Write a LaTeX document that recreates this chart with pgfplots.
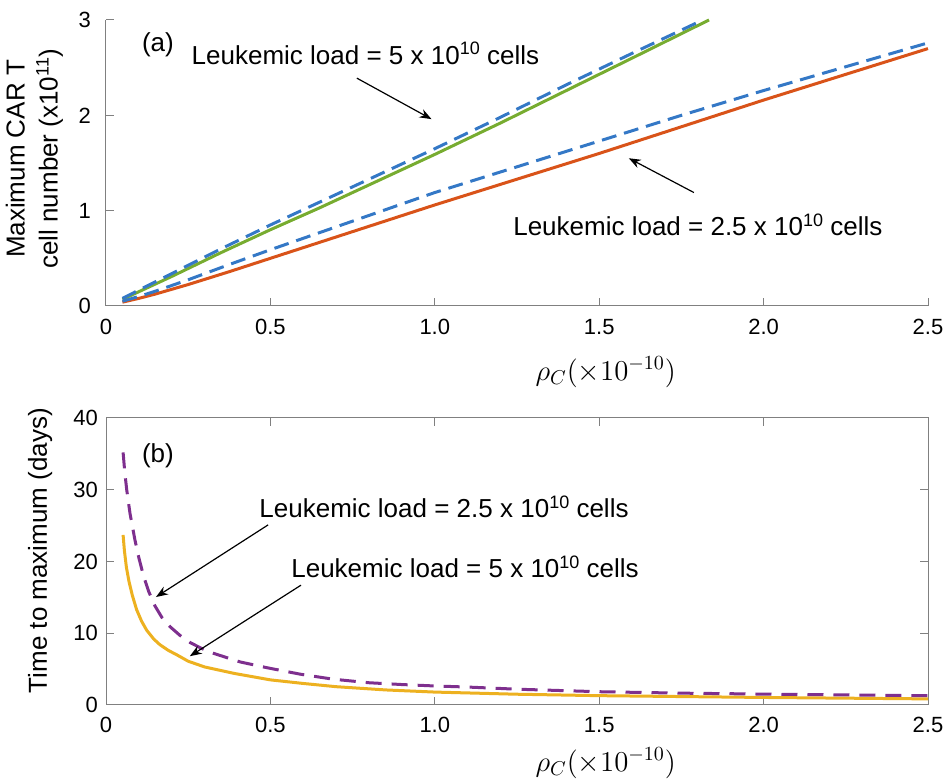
\documentclass[border=0pt]{standalone}
\usepackage[no-math]{fontspec}
\setmainfont{Liberation Sans}
\usepackage{pgfplots}
\pgfplotsset{compat=1.18}
\usetikzlibrary{arrows.meta}
\definecolor{mgreen}{HTML}{77AC30}
\definecolor{mred}{HTML}{D95319}
\definecolor{myellow}{HTML}{EDB120}
\definecolor{mpurple}{HTML}{7E2F8E}
\definecolor{mblue}{RGB}{52,120,198}
\newcommand{\af}{\fontsize{13}{15.6}\selectfont}
\newcommand{\sups}[1]{\raisebox{4.6pt}{\fontsize{9}{9}\selectfont #1}}
\pgfplotsset{
  myaxis/.style={
    scale only axis, width=411pt, height=143pt,
    xmin=0, xmax=2.5,
    tick align=inside,
    axis line style={black!50, line width=0.5pt},
    major tick style={black!50, line width=0.5pt},
    major tick length=4pt,
    xtick={0,0.5,1,1.5,2,2.5},
    xticklabels={0,0.5,1.0,1.5,2.0,2.5},
    ticklabel style={font=\fontsize{11}{13}\selectfont},
    /pgf/number format/assume math mode=true,
    clip=false,
    label style={font=\fontsize{13}{16.5}\selectfont},
  }
}
\begin{document}
\begin{tikzpicture}[x=1pt,y=1pt]
\useasboundingbox (0,0) rectangle (474,390);
% ---------------- (a) ----------------
\begin{axis}[myaxis,
  at={(53pt,237pt)}, anchor=origin,
  ymin=0, ymax=3, ytick={0,1,2,3},
  axis x line*=bottom, axis y line*=left,
  xticklabel style={yshift=-3pt},
  yticklabel style={xshift=-4pt},
  xlabel={\fontsize{14.5}{16}\selectfont$\rho_C(\times10^{-10})$},
  xlabel style={at={(axis description cs:0.608,0)}, anchor=center, yshift=-33pt},
  ylabel={Maximum CAR T\\cell number (x10\sups{11})},
  ylabel style={at={(axis description cs:-0.087,0.514)}, anchor=center, align=center},
]
\addplot[mgreen, line width=1.5pt] coordinates {
(0.05,0.07)(0.2,0.31)(0.35,0.56)(0.5,0.80)(0.65,1.03)(0.8,1.27)(1.0,1.59)(1.2,1.92)(1.4,2.26)(1.6,2.60)(1.834,3.0)};
\addplot[mblue, line width=1.5pt, dash pattern=on 7.5pt off 4pt] coordinates {
(0.05,0.08)(0.2,0.34)(0.35,0.60)(0.5,0.85)(0.65,1.09)(0.8,1.33)(1.0,1.65)(1.2,1.98)(1.4,2.32)(1.6,2.65)(1.815,3.0)};
\addplot[mred, line width=1.5pt] coordinates {
(0.05,0.04)(0.1,0.08)(0.15,0.125)(0.25,0.225)(0.375,0.36)(0.5,0.50)(0.75,0.78)(1.0,1.06)(1.25,1.33)(1.5,1.60)(1.75,1.88)(2.0,2.16)(2.25,2.43)(2.5,2.70)};
\addplot[mblue, line width=1.5pt, dash pattern=on 7.5pt off 4pt] coordinates {
(0.05,0.05)(0.1,0.10)(0.15,0.155)(0.25,0.275)(0.375,0.435)(0.5,0.59)(0.75,0.89)(1.0,1.19)(1.25,1.46)(1.5,1.73)(1.75,2.00)(2.0,2.26)(2.25,2.51)(2.5,2.76)};
\node[font=\af] at (axis cs:0.158,2.74) {(a)};
\node[font=\af] at (axis cs:0.789,2.65) {Leukemic load = 5 x 10\sups{10} cells};
\draw[line width=0.6pt, -{Stealth[length=6pt,width=4.5pt]}] (axis cs:0.763,2.39) -- (axis cs:0.99,1.96);
\node[font=\af] at (axis cs:1.80,0.85) {Leukemic load = 2.5 x 10\sups{10} cells};
\draw[line width=0.6pt, -{Stealth[length=6pt,width=4.5pt]}] (axis cs:1.788,1.19) -- (axis cs:1.59,1.55);
\end{axis}
% ---------------- (b) ----------------
\begin{axis}[myaxis,
  at={(53pt,37.5pt)}, anchor=origin,
  height=143.5pt,
  ymin=0, ymax=40, ytick={0,10,20,30,40},
  xticklabel style={yshift=-2.5pt},
  yticklabel style={xshift=-0.5pt},
  xlabel={\fontsize{14.5}{16}\selectfont$\rho_C(\times10^{-10})$},
  xlabel style={at={(axis description cs:0.608,0)}, anchor=center, yshift=-29pt},
  ylabel={Time to maximum (days)},
  ylabel style={at={(axis description cs:-0.080,0.538)}, anchor=center},
]
\addplot[myellow, line width=1.5pt] coordinates {
(0.052,23.7)(0.056,21.5)(0.062,19.2)(0.07,17.2)(0.08,15.3)(0.093,13.3)(0.108,11.7)(0.124,10.4)(0.145,9.2)(0.164,8.4)(0.19,7.6)(0.215,7.0)(0.25,6.1)(0.3,5.3)(0.39,4.4)(0.5,3.5)(0.6,3.0)(0.7,2.55)(0.85,2.1)(1.0,1.8)(1.25,1.5)(1.5,1.3)(2.0,1.05)(2.5,0.85)};
\addplot[mpurple, line width=1.5pt, dash pattern=on 8pt off 5pt] coordinates {
(0.052,35.2)(0.057,32.5)(0.063,30.0)(0.073,26.7)(0.088,23.0)(0.1,20.5)(0.114,18.0)(0.13,15.8)(0.149,13.8)(0.17,12.2)(0.195,10.9)(0.225,9.7)(0.256,8.7)(0.29,7.9)(0.327,7.2)(0.408,6.0)(0.489,5.2)(0.59,4.3)(0.69,3.6)(0.8,3.1)(0.9,2.85)(1.0,2.65)(1.1,2.5)(1.25,2.2)(1.5,1.85)(1.75,1.65)(2.0,1.52)(2.25,1.4)(2.5,1.3)};
\node[font=\af] at (axis cs:0.158,34.8) {(b)};
\node[font=\af] at (axis cs:1.028,27.6) {Leukemic load = 2.5 x 10\sups{10} cells};
\draw[line width=0.6pt, -{Stealth[length=6pt,width=4.5pt]}] (axis cs:0.493,25.1) -- (axis cs:0.152,15.05);
\node[font=\af] at (axis cs:1.092,19.2) {Leukemic load = 5 x 10\sups{10} cells};
\draw[line width=0.6pt, -{Stealth[length=6pt,width=4.5pt]}] (axis cs:0.593,16.7) -- (axis cs:0.255,6.8);
\end{axis}
\end{tikzpicture}
\end{document}
